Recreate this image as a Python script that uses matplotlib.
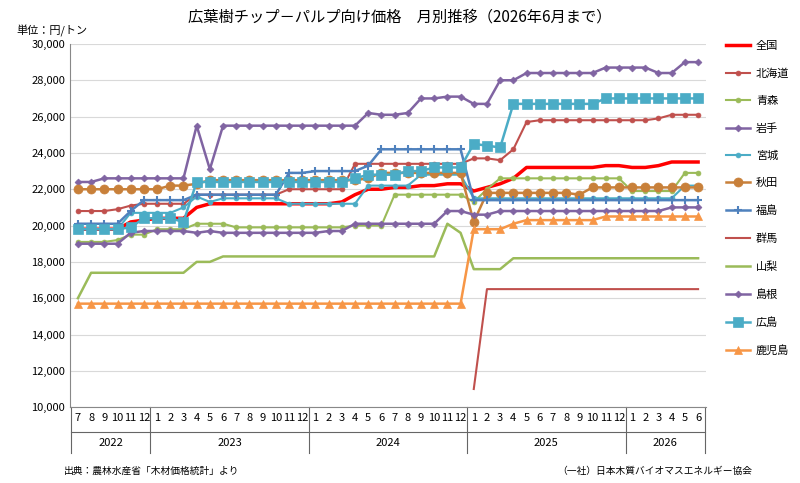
import numpy as np
import matplotlib
matplotlib.use("Agg")
import matplotlib.pyplot as plt
from matplotlib.transforms import blended_transform_factory

plt.rcParams['font.family'] = ['Noto Sans CJK JP', 'DejaVu Sans']

nan = np.nan
months = [7, 8, 9, 10, 11, 12] + list(range(1, 13)) * 3 + [1, 2, 3, 4, 5, 6]
years = ["2022", "2023", "2024", "2025", "2026"]
year_spans = [(0, 5), (6, 17), (18, 29), (30, 41), (42, 47)]

zenkoku = [19800, 19800, 19800, 19800, 20200, 20300,
           20400, 20400, 20400, 21000, 21200, 21200, 21200, 21200, 21200, 21200, 21200, 21200,
           21200, 21200, 21300, 21700, 22000, 22000, 22100, 22100, 22200, 22200, 22300, 22300,
           21900, 22100, 22300, 22600, 23200, 23200, 23200, 23200, 23200, 23200, 23300, 23300,
           23200, 23200, 23300, 23500, 23500, 23500]
hokkaido = [20800, 20800, 20800, 20900, 21100, 21200,
            21200, 21200, 21200, 21700, 21700, 21700, 21700, 21700, 21700, 21700, 22000, 22000,
            22000, 22000, 22000, 23400, 23400, 23400, 23400, 23400, 23400, 23400, 23400, 23400,
            23700, 23700, 23600, 24200, 25700, 25800, 25800, 25800, 25800, 25800, 25800, 25800,
            25800, 25800, 25900, 26100, 26100, 26100]
aomori = [19100, 19100, 19100, 19200, 19500, 19500,
          19800, 19800, 19800, 20100, 20100, 20100, 19900, 19900, 19900, 19900, 19900, 19900,
          19900, 19900, 19900, 20000, 20000, 20000, 21700, 21700, 21700, 21700, 21700, 21700,
          21300, 22000, 22600, 22600, 22600, 22600, 22600, 22600, 22600, 22600, 22600, 22600,
          21900, 21900, 21900, 21900, 22900, 22900]
iwate = [22400, 22400, 22600, 22600, 22600, 22600,
         22600, 22600, 22600, 25500, 23100, 25500, 25500, 25500, 25500, 25500, 25500, 25500,
         25500, 25500, 25500, 25500, 26200, 26100, 26100, 26200, 27000, 27000, 27100, 27100,
         26700, 26700, 28000, 28000, 28400, 28400, 28400, 28400, 28400, 28400, 28700, 28700,
         28700, 28700, 28400, 28400, 29000, 29000]
miyagi = [19800, 19800, 19800, 19800, 20700, 20700,
          20700, 20700, 21000, 21600, 21300, 21500, 21500, 21500, 21500, 21500, 21200, 21200,
          21200, 21200, 21200, 21200, 22200, 22200, 22200, 22200, 22800, 22800, 22800, 22800,
          21500, 21500, 21500, 21500, 21500, 21500, 21500, 21500, 21500, 21500, 21500, 21500,
          21500, 21500, 21500, 21500, 22200, 22200]
akita = [22000, 22000, 22000, 22000, 22000, 22000,
         22000, 22200, 22200, 22300, 22500, 22500, 22500, 22500, 22500, 22500, 22500, 22500,
         22500, 22500, 22500, 22500, 22600, 22900, 22900, 22900, 22900, 22900, 22900, 22900,
         20200, 21800, 21800, 21800, 21800, 21800, 21800, 21800, 21700, 22100, 22100, 22100,
         22100, 22100, 22100, 22100, 22100, 22100]
fukushima = [20100, 20100, 20100, 20100, 20800, 21400,
             21400, 21400, 21400, 21700, 21700, 21700, 21700, 21700, 21700, 21700, 22900, 22900,
             23000, 23000, 23000, 23000, 23300, 24200, 24200, 24200, 24200, 24200, 24200, 24200,
             21400, 21400, 21400, 21400, 21400, 21400, 21400, 21400, 21400, 21400, 21400, 21400,
             21400, 21400, 21400, 21400, 21400, 21400]
gunma = [nan] * 30 + [11000] + [16500] * 17
yamanashi = [16000, 17400, 17400, 17400, 17400, 17400,
             17400, 17400, 17400, 18000, 18000, 18300, 18300, 18300, 18300, 18300, 18300, 18300,
             18300, 18300, 18300, 18300, 18300, 18300, 18300, 18300, 18300, 18300, 20100, 19600,
             17600, 17600, 17600, 18200, 18200, 18200, 18200, 18200, 18200, 18200, 18200, 18200,
             18200, 18200, 18200, 18200, 18200, 18200]
shimane = [19000, 19000, 19000, 19000, 19600, 19700,
           19700, 19700, 19700, 19600, 19700, 19600, 19600, 19600, 19600, 19600, 19600, 19600,
           19600, 19700, 19700, 20100, 20100, 20100, 20100, 20100, 20100, 20100, 20800, 20800,
           20600, 20600, 20800, 20800, 20800, 20800, 20800, 20800, 20800, 20800, 20800, 20800,
           20800, 20800, 20800, 21000, 21000, 21000]
hiroshima = [19800, 19800, 19800, 19800, 19900, 20400,
             20400, 20400, 20200, 22400, 22400, 22400, 22400, 22400, 22400, 22400, 22400, 22400,
             22400, 22400, 22400, 22600, 22800, 22800, 22800, 23000, 23000, 23200, 23200, 23200,
             24500, 24400, 24300, 26700, 26700, 26700, 26700, 26700, 26700, 26700, 27000, 27000,
             27000, 27000, 27000, 27000, 27000, 27000]
kagoshima = [15700] * 30 + [19800, 19800, 19800, 20100, 20300, 20300, 20300, 20300, 20300,
                            20300, 20500, 20500, 20500, 20500, 20500, 20500, 20500, 20500]

series = [
    ("全国", zenkoku, "#FF0000", None, 6, 2.5),
    ("北海道", hokkaido, "#C0504D", "o", 3.5, 1.5),
    ("青森", aomori, "#9BBB59", "o", 3.5, 1.5),
    ("岩手", iwate, "#8064A2", "D", 3.5, 1.8),
    ("宮城", miyagi, "#4BACC6", "o", 3.5, 1.5),
    ("秋田", akita, "#C8803A", "o", 6.5, 1.8),
    ("福島", fukushima, "#4F81BD", "+", 6, 1.8),
    ("群馬", gunma, "#C0504D", None, 6, 1.5),
    ("山梨", yamanashi, "#9BBB59", None, 6, 1.8),
    ("島根", shimane, "#8064A2", "D", 3.5, 1.8),
    ("広島", hiroshima, "#4BACC6", "s", 6.5, 1.8),
    ("鹿児島", kagoshima, "#F79646", "^", 5.5, 1.8),
]

fig = plt.figure(figsize=(8, 4.83), dpi=100)
ax = fig.add_axes([0.0875, 0.157, 0.795, 0.752])
x = np.arange(len(months))
for name, vals, color, marker, ms, lw in series:
    ax.plot(x, vals, color=color, marker=marker, markersize=ms, linewidth=lw,
            markeredgewidth=1.5 if marker == "+" else 0.5, label=name)

ax.set_xlim(-0.6, len(months) - 0.4)
ax.set_ylim(10000, 30000)
ax.set_yticks(range(10000, 30001, 2000))
ax.set_yticklabels([f"{v:,}" for v in range(10000, 30001, 2000)], fontsize=8)
ax.yaxis.grid(True, color="#D9D9D9", linewidth=0.8)
ax.set_axisbelow(True)
for s in ["top", "right"]:
    ax.spines[s].set_visible(False)
ax.spines["left"].set_color("#888888")
ax.spines["bottom"].set_color("#888888")
ax.tick_params(axis="y", length=0)
ax.set_xticks(x)
ax.set_xticklabels([str(m) for m in months], fontsize=8)
ax.tick_params(axis="x", length=0, pad=4)

trans = blended_transform_factory(ax.transData, ax.transAxes)
bounds = [-0.5] + [e + 0.5 for _, e in year_spans]
for b in bounds:
    ax.plot([b, b], [0, -0.125], transform=trans, color="#666666", lw=0.8, clip_on=False)
ax.plot([-0.5, len(months) - 0.5], [-0.068, -0.068], transform=trans, color="#666666", lw=0.8, clip_on=False)
for yr, (s, e) in zip(years, year_spans):
    ax.text((s + e) / 2, -0.1, yr, transform=trans, ha="center", va="center", fontsize=8)

fig.text(0.5, 0.965, "広葉樹チップ－パルプ向け価格　月別推移（2026年6月まで）", ha="center", va="center", fontsize=11)
fig.text(0.02, 0.935, "単位：円/トン", ha="left", va="center", fontsize=8)
fig.text(0.08, 0.025, "出典：農林水産省「木材価格統計」より", ha="left", va="center", fontsize=7)
fig.text(0.94, 0.025, "（一社）日本木質バイオマスエネルギー協会", ha="right", va="center", fontsize=7)

fig.legend(loc="upper left", bbox_to_anchor=(0.902, 0.925), frameon=False, fontsize=8,
           labelspacing=1.55, handlelength=2.2, handletextpad=0.5, borderaxespad=0)

fig.savefig("out.png", dpi=100)
